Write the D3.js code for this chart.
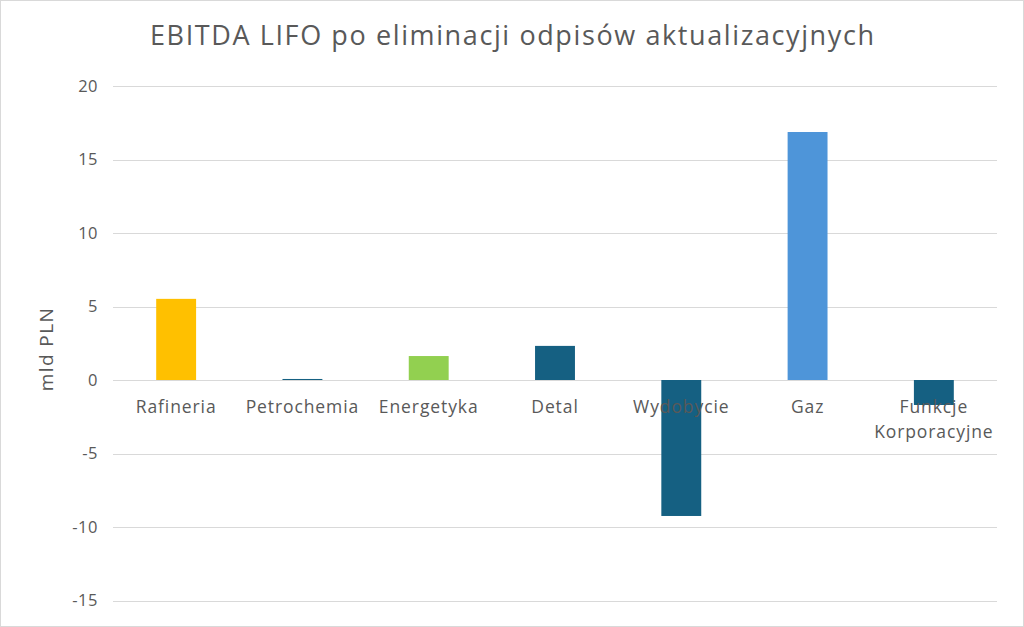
<!DOCTYPE html>
<html><head><meta charset="utf-8">
<script src="https://cdn.jsdelivr.net/npm/d3@7"></script>
<style>
html,body{margin:0;padding:0;background:#fff;}
svg{display:block;}
text{font-family:"Open Sans","Noto Sans",sans-serif;}
</style></head>
<body>
<svg id="chart" width="1024" height="627"></svg>
<script>
const categories = ["Rafineria","Petrochemia","Energetyka","Detal","Wydobycie","Gaz","Funkcje Korporacyjne"];
const values = [5.52, 0.07, 1.63, 2.32, -9.25, 16.87, -1.7];
const colors = ["#ffc000","#156082","#92d050","#156082","#156082","#4e95d9","#156082"];
const yTicks = [-15,-10,-5,0,5,10,15,20];
const title = "EBITDA LIFO po eliminacji odpisów aktualizacyjnych";
const yLabel = "mld PLN";

const svg = d3.select("#chart");
const W = 1024, H = 627;
const m = {left:113, right:27, top:86, bottom:27};

svg.append("rect").attr("x",0.5).attr("y",0.5).attr("width",W-1).attr("height",H-1)
  .attr("fill","#fff").attr("stroke","#d9d9d9");

const x = d3.scaleBand().domain(categories).range([m.left, W-m.right]).paddingInner(0.684).paddingOuter(0.342);
const y = d3.scaleLinear().domain([-15,20]).range([600.5, 86]);

// gridlines
svg.append("g").selectAll("line").data(yTicks).join("line")
  .attr("x1", m.left).attr("x2", W-m.right)
  .attr("y1", d=>Math.round(y(d))+0.5).attr("y2", d=>Math.round(y(d))+0.5)
  .attr("stroke","#d9d9d9").attr("stroke-width",1);

// y tick labels
svg.append("g").selectAll("text").data(yTicks).join("text")
  .attr("x", 98).attr("y", d=>y(d)).attr("dy","0.35em")
  .attr("text-anchor","end").attr("font-size",16.5).attr("fill","#595959")
  .attr("letter-spacing",0.5)
  .text(d=>d);

// bars
svg.append("g").selectAll("rect").data(categories).join("rect")
  .attr("x", d=>x(d)).attr("width", x.bandwidth())
  .attr("y", (d,i)=>Math.min(y(values[i]), y(0)))
  .attr("height", (d,i)=>Math.abs(y(values[i])-y(0)))
  .attr("fill", (d,i)=>colors[i]);

// category labels
const cl = svg.append("g").selectAll("text").data(categories).join("text")
  .attr("x", d=>x(d)+x.bandwidth()/2).attr("y", 413)
  .attr("text-anchor","middle").attr("font-size",17.5).attr("fill","#595959")
  .attr("letter-spacing",0.9);
cl.each(function(d){
  const words = d.split(" ");
  const t = d3.select(this);
  words.forEach((w,i)=>{
    t.append("tspan").attr("x", x(d)+x.bandwidth()/2).attr("dy", i===0?0:25).text(w);
  });
});

// title
svg.append("text").attr("x", 512).attr("y", 45).attr("text-anchor","middle")
  .attr("font-size",27).attr("fill","#595959")
  .attr("textLength",724).attr("lengthAdjust","spacing").text(title);

// y label
svg.append("text").attr("transform","translate(53,349) rotate(-90)")
  .attr("text-anchor","middle").attr("font-size",19).attr("fill","#595959")
  .attr("letter-spacing",1.4).text(yLabel);
</script>
</body></html>
